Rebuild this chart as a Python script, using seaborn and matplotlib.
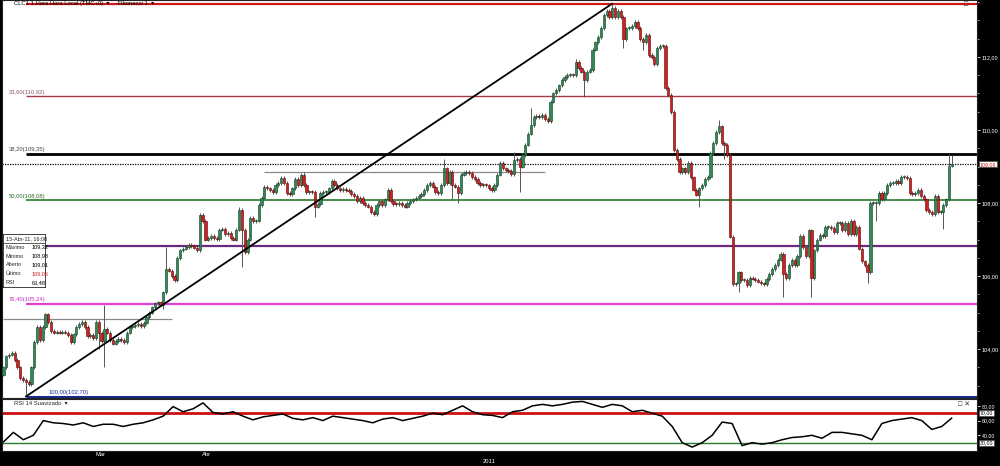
import numpy as np
import pandas as pd
import matplotlib
matplotlib.use("Agg")
import matplotlib.pyplot as plt
import matplotlib.transforms as mtransforms
from matplotlib.ticker import MultipleLocator, FuncFormatter, FixedLocator
import seaborn as sns

# ---- data (CL1, 1 hora) ----
first_open = 103.30
closes = [
    # fim de fevereiro / março
    103.50, 103.80, 103.85, 103.90, 103.70, 103.50, 103.20, 103.15, 103.10, 103.05,
    103.50, 104.20, 104.60, 104.25, 104.60, 104.95, 104.75, 104.50, 104.45, 104.48,
    104.45, 104.48, 104.45, 104.38, 104.20, 104.40, 104.60, 104.68, 104.75, 104.60,
    104.35, 104.38, 104.30, 104.75, 104.45, 104.22, 104.55, 104.45, 104.25, 104.15,
    104.22, 104.28, 104.25, 104.20, 104.45, 104.60, 104.62, 104.65, 104.68, 104.62,
    104.72, 104.87, 105.00, 105.14, 105.25, 105.28, 105.22, 105.55, 106.20, 106.15,
    106.00, 105.90, 106.50, 106.70, 106.75, 106.80, 106.85, 106.82, 106.78, 106.72,
    # abril
    107.68, 107.50, 107.00, 107.05, 107.10, 107.05, 107.02, 107.27, 107.30, 107.15,
    107.18, 107.05, 107.00, 107.27, 107.82, 107.27, 106.65, 107.00, 107.60, 107.50,
    107.52, 107.95, 108.15, 108.45, 108.40, 108.35, 108.30, 108.50, 108.55, 108.68,
    108.55, 108.28, 108.25, 108.40, 108.65, 108.50, 108.78, 108.50, 108.30, 108.32,
    108.30, 107.90, 107.97, 108.27, 108.30, 108.30, 108.40, 108.60, 108.50, 108.40,
    108.35, 108.38, 108.35, 108.33, 108.25, 108.20, 108.05, 108.15, 108.00, 107.95,
    107.90, 107.75, 107.70, 107.95, 108.05, 107.95, 108.10, 108.35, 108.05, 107.98,
    107.96, 108.00, 107.95, 107.90,
    108.00, 108.05, 108.10, 108.15, 108.20, 108.25, 108.35, 108.50, 108.55, 108.45,
    108.30, 108.28, 108.50, 108.95, 108.55, 108.85, 108.50, 108.45, 108.28, 108.78,
    108.82, 108.85, 108.82, 108.72, 108.65, 108.55, 108.50, 108.50, 108.48, 108.42,
    108.35, 108.50, 108.78, 109.10, 108.95, 108.90, 108.88, 108.80, 109.18, 109.20,
    109.00, 109.32, 109.60, 109.90, 110.13, 110.35, 110.38, 110.35, 110.42, 110.30,
    110.25, 110.78, 111.00, 111.10, 111.22, 111.37, 111.45, 111.50, 111.52, 111.50,
    111.87, 111.70, 111.60, 111.37, 111.60, 111.65, 112.20, 112.40, 112.55, 112.80,
    113.15, 113.25, 113.10, 113.35, 113.10, 113.25, 113.10, 112.50, 112.78, 112.80,
    112.85, 112.95, 112.80, 112.50, 112.40,
    112.60, 112.05, 112.00, 111.80, 112.25, 112.30, 112.30, 111.15, 110.95, 110.50,
    109.45, 109.20, 108.85, 108.95, 108.85, 109.10, 108.70, 108.37, 108.23, 108.40,
    108.50, 108.65, 108.72, 109.37, 109.65, 109.95, 110.10, 109.65, 109.60, 109.32,
    107.08, 105.77, 105.80, 106.10, 105.90, 105.90, 105.75, 105.95, 105.93, 105.90,
    105.85, 105.80, 105.78, 105.92, 106.05, 106.20, 106.30, 106.45, 106.60, 106.05,
    105.95, 106.30, 106.45, 106.30, 106.55, 107.10, 106.80, 106.55, 107.25, 105.95,
    106.70,
    107.00, 107.12, 107.10, 107.35, 107.35, 107.32, 107.20, 107.45, 107.45, 107.25,
    107.45, 107.15, 107.50, 107.15, 107.35, 106.75, 106.40, 106.30, 106.10, 108.00,
    108.00, 108.00, 108.28, 108.10, 108.28, 108.50, 108.55, 108.55, 108.60, 108.55,
    108.72, 108.72, 108.68, 108.28, 108.25, 108.28, 108.35, 108.20, 108.10, 107.80,
    107.75, 107.70, 108.20, 107.75, 107.75, 107.95, 108.10, 109.01, 109.06,
]
long_highs = {36: 105.22, 58: 106.80, 84: 107.90, 107: 108.85, 157: 109.20, 182: 109.40,
              188: 110.60, 204: 111.95, 217: 113.46, 255: 110.28, 337: 109.35, 338: 109.32}
long_lows = {8: 102.70, 34: 104.00, 36: 103.50, 57: 105.10, 85: 106.25, 111: 107.62,
             160: 108.10, 162: 108.00, 184: 108.30, 207: 110.90, 221: 112.25, 228: 112.20,
             248: 107.90, 257: 109.20, 262: 105.55, 278: 105.42, 288: 105.42, 308: 105.80,
             311: 107.50, 335: 107.30, 338: 108.98}

rsi_vals = [31, 44, 34, 40, 60, 57, 56, 54, 57, 52,
            55, 55, 52, 55, 57, 61, 66, 79, 72, 76,
            84, 71, 69, 72, 66, 61, 65, 67, 69, 63,
            61, 64, 60, 66, 64, 62, 60, 57, 62, 64,
            60, 63, 66, 70, 68, 74, 80, 72, 68, 67,
            64, 72, 74, 80, 82, 80, 82, 85, 86, 82,
            78, 82, 80, 72, 74, 70, 66, 52, 30, 24,
            30, 40, 58, 56, 26, 30, 28, 30, 34, 37,
            38, 40, 36, 44, 44, 42, 40, 34, 56, 60,
            62, 64, 60, 48, 52, 63.48]

month_ticks = [32, 70]
month_labels = ["Mar", "Abr"]
year_label = "2011"
drawn_lines = [(104.81, 0, 60), (108.86, 93, 193)]   # (preço, barra inicial, barra final)

fib_ratios = [0.0, 23.6, 38.2, 50.0, 61.8, 76.4, 100.0]
fib_colors = ["#d01818", "#a83848", "#000000", "#2a7a2a", "#6a2a80", "#e040d8", "#1a2a8a"]
fib_widths = [1.6, 1.0, 2.0, 1.2, 1.6, 1.6, 2.2]
fib_label_bar = {23.6: 2, 38.2: 2, 50.0: 2, 76.4: 2, 100.0: 16}
fib_label_colors = {23.6: "#8a5a62", 38.2: "#444444", 50.0: "#2a6a2a", 76.4: "#c030c0", 100.0: "#1a2a9a"}

info_date = "15-Abr-11, 16:00"
info_rows = [("Máximo", "109,32"), ("Mínimo", "108,98"), ("Aberto", "109,01"),
             ("Último", "109,06"), ("RSI", "63,48")]
last_price = 109.06

# ---- candles table ----
n = len(closes)
opens = [first_open] + closes[:-1]
opens[-1] = 109.01
df = pd.DataFrame({"open": opens, "close": closes})
pad = 0.05
df["high"] = df[["open", "close"]].max(axis=1) + pad
df["low"] = df[["open", "close"]].min(axis=1) - pad
for i, v in long_highs.items():
    df.loc[i, "high"] = v
for i, v in long_lows.items():
    df.loc[i, "low"] = v
df["bar"] = np.arange(n)

sns.set_style("white")
plt.rcParams["font.family"] = ["Liberation Sans", "DejaVu Sans"]

fig = plt.figure(figsize=(10, 4.66), dpi=100, facecolor="black")
ax = fig.add_axes([0.002, 1 - 398 / 466, 0.975, 398 / 466])
ax_rsi = fig.add_axes([0.002, 1 - 451 / 466, 0.975, 52 / 466], sharex=ax)
for a in (ax, ax_rsi):
    a.set_facecolor("white")
    for s in a.spines.values():
        s.set_color("#222222")
        s.set_linewidth(0.8)

xmax = n + 8
ax.set_xlim(-0.5, xmax)
ax.set_ylim(102.66, 113.56)

# candles
up = df["close"] >= df["open"]
ax.vlines(df["bar"], df["low"], df["high"], color="#555555", lw=0.7, zorder=3)
body_lo = df[["open", "close"]].min(axis=1)
body_h = (df["close"] - df["open"]).abs().clip(lower=0.03)
ax.bar(df["bar"][up], body_h[up], bottom=body_lo[up], width=0.8,
       color="#2f8a55", edgecolor="#1b4a30", lw=0.45, zorder=4)
ax.bar(df["bar"][~up], body_h[~up], bottom=body_lo[~up], width=0.8,
       color="#cc2222", edgecolor="#6a1010", lw=0.45, zorder=4)

# fibonacci
lo_i, hi_i = int(df["low"].idxmin()), int(df["high"].idxmax())
lo, hi = df["low"].min(), df["high"].max()
sns.lineplot(x=[lo_i, hi_i], y=[lo, hi], ax=ax, color="black", lw=1.3, zorder=5)
for r, c, lw in zip(fib_ratios, fib_colors, fib_widths):
    p = hi - r / 100 * (hi - lo)
    ax.hlines(p, lo_i, xmax, color=c, lw=lw, zorder=2)
    if r in fib_label_bar:
        txt = f"{r:.2f}({p:.2f})".replace(".", ",")
        ax.text(fib_label_bar[r], p + 0.04, txt, fontsize=4.2, color=fib_label_colors[r],
                ha="left", va="bottom", zorder=6)

for p, b0, b1 in drawn_lines:
    ax.hlines(p, b0, b1, color="#8a8a8a", lw=0.9, zorder=2)
ax.axhline(last_price, color="black", lw=0.9, ls=(0, (1, 1)), zorder=2)

# eixo de preço à direita
ax.yaxis.tick_right()
ax.yaxis.set_major_locator(MultipleLocator(2))
ax.yaxis.set_minor_locator(MultipleLocator(0.5))
ax.yaxis.set_major_formatter(FuncFormatter(lambda v, _: f"{v:.2f}".replace(".", ",")))
ax.tick_params(axis="y", which="major", colors="white", labelsize=4, length=2.5, width=0.6, pad=1)
ax.tick_params(axis="y", which="minor", colors="white", length=1.5, width=0.5)
ax.tick_params(axis="x", bottom=False, labelbottom=False)
yt = mtransforms.blended_transform_factory(ax.transAxes, ax.transData)
ax.text(1.003, last_price, f"{last_price:.2f}".replace(".", ","), transform=yt, fontsize=3.8,
        color="#cc2222", va="center", ha="left",
        bbox=dict(boxstyle="square,pad=0.12", fc="white", ec="#444444", lw=0.5))

ax.text(0.012, 0.997, "CLC1 1 Hora Hora Local (TMC+0)  ▾     Fibonacci 1  ▾", transform=ax.transAxes,
        fontsize=4.2, color="black", ha="left", va="top", zorder=7)
ax.text(0.989, 0.997, "□", transform=ax.transAxes, fontsize=5, ha="center", va="top", color="#333333")

# RSI
rsi_x = np.linspace(0, n - 1, len(rsi_vals))
ax_rsi.set_ylim(18.7, 89.3)
ax_rsi.axhline(70, color="#cc1111", lw=2.0, zorder=2)
ax_rsi.axhline(30, color="#2a7a2a", lw=1.0, zorder=2)
sns.lineplot(x=rsi_x, y=rsi_vals, ax=ax_rsi, color="black", lw=1.1, zorder=3)
ax_rsi.set_ylabel("")
ax_rsi.yaxis.tick_right()
ax_rsi.yaxis.set_major_locator(FixedLocator([40, 60, 80]))
ax_rsi.yaxis.set_major_formatter(FuncFormatter(lambda v, _: f"{v:.2f}".replace(".", ",")))
ax_rsi.tick_params(axis="y", colors="white", labelsize=3.8, length=2.5, width=0.6, pad=1)
rt = mtransforms.blended_transform_factory(ax_rsi.transAxes, ax_rsi.transData)
for lvl in (70, 30):
    ax_rsi.text(1.003, lvl, f"{lvl:.2f}".replace(".", ","), transform=rt, fontsize=3.8,
                color="black", va="center", ha="left",
                bbox=dict(boxstyle="square,pad=0.1", fc="white", ec="#444444", lw=0.5))
ax_rsi.text(0.012, 0.96, "RSI 14 Suavizado  ▾", transform=ax_rsi.transAxes, fontsize=4.2,
            ha="left", va="top")
ax_rsi.text(0.993, 0.97, "□ ✕", transform=ax_rsi.transAxes, fontsize=5, ha="right", va="top",
            color="#333333")

ax_rsi.set_xticks(month_ticks)
ax_rsi.set_xticklabels(month_labels)
ax_rsi.tick_params(axis="x", colors="white", labelsize=4.2, length=6, width=0.6,
                   direction="out", pad=-5.5)
off = mtransforms.ScaledTranslation(2 / 100, 0, fig.dpi_scale_trans)
for lab in ax_rsi.get_xticklabels():
    lab.set_ha("left")
    lab.set_transform(lab.get_transform() + off)
ax_rsi.set_xlabel(year_label, color="white", fontsize=4.2, labelpad=1.5)

# caixa de informação
ax_info = fig.add_axes([3 / 1000, 1 - 287 / 466, 42 / 1000, 53 / 466])
ax_info.set_facecolor("white")
ax_info.set_xticks([])
ax_info.set_yticks([])
ax_info.set_xlim(0, 1)
ax_info.set_ylim(0, 6)
for s in ax_info.spines.values():
    s.set_color("#222222")
    s.set_linewidth(0.6)
ax_info.axhline(5, color="#222222", lw=0.5)
ax_info.text(0.07, 5.5, info_date, fontsize=4, va="center", ha="left")
for k, (lab, val) in enumerate(info_rows):
    yy = 4.5 - k
    ax_info.text(0.07, yy, lab, fontsize=4, va="center", ha="left")
    ax_info.text(0.68, yy, val, fontsize=4, va="center", ha="left",
                 color="#cc2222" if lab == "Último" else "black")

fig.savefig("out.png", dpi=100, facecolor="black")
